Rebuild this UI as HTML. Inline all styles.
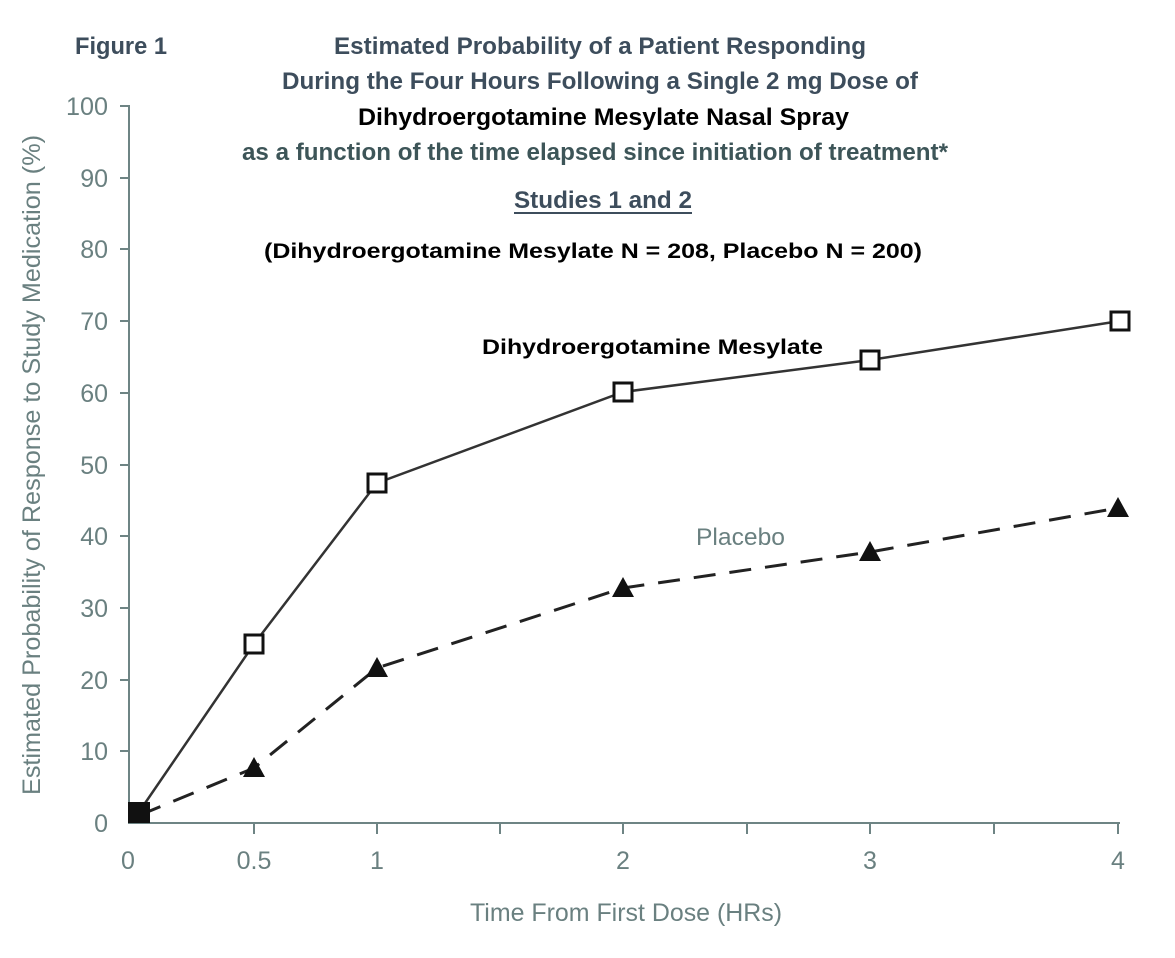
<!DOCTYPE html>
<html><head><meta charset="utf-8"><style>html,body{margin:0;padding:0;background:#fff}svg{display:block}</style></head>
<body>
<svg width="1175" height="958" viewBox="0 0 1175 958" xmlns="http://www.w3.org/2000/svg" font-family="Liberation Sans, sans-serif">
<g fill="#3d4d5c" font-weight="bold" font-size="24">
<text x="75" y="54" textLength="92" lengthAdjust="spacingAndGlyphs">Figure 1</text>
<text x="334" y="54" textLength="532" lengthAdjust="spacingAndGlyphs">Estimated Probability of a Patient Responding</text>
<text x="282" y="89" textLength="636" lengthAdjust="spacingAndGlyphs">During the Four Hours Following a Single 2 mg Dose of</text>
<text x="242" y="160" textLength="706" lengthAdjust="spacingAndGlyphs" fill="#3d5558">as a function of the time elapsed since initiation of treatment*</text>
<text x="514" y="208" textLength="178" lengthAdjust="spacingAndGlyphs">Studies 1 and 2</text>
</g>
<line x1="514" y1="213" x2="692" y2="213" stroke="#3d4d5c" stroke-width="2"/>
<g fill="#000" font-weight="bold">
<text x="358" y="125" font-size="24" textLength="491" lengthAdjust="spacingAndGlyphs">Dihydroergotamine Mesylate Nasal Spray</text>
<text x="264" y="258" font-size="21" textLength="658" lengthAdjust="spacingAndGlyphs">(Dihydroergotamine Mesylate N = 208, Placebo N = 200)</text>
<text x="482" y="354" font-size="21" textLength="341" lengthAdjust="spacingAndGlyphs">Dihydroergotamine Mesylate</text>
</g>
<text x="696" y="545" font-size="24" fill="#6a8080" textLength="89" lengthAdjust="spacingAndGlyphs">Placebo</text>
<g stroke="#6e8484" stroke-width="2" fill="none">
<path d="M120 106 H129 V823 H1120"/>
<path d="M120 178 H129 M120 249 H129 M120 321 H129 M120 393 H129 M120 465 H129 M120 536 H129 M120 608 H129 M120 680 H129 M120 751 H129"/>
<path d="M254 823 V834 M377 823 V834 M500 823 V834 M623 823 V834 M747 823 V834 M870 823 V834 M994 823 V834 M1118 823 V834"/>
</g>
<g fill="#6a8080" font-size="25" text-anchor="end">
<text x="108" y="115" textLength="42" lengthAdjust="spacingAndGlyphs">100</text><text x="108" y="187">90</text><text x="108" y="258">80</text><text x="108" y="330">70</text><text x="108" y="402">60</text><text x="108" y="474">50</text><text x="108" y="545">40</text><text x="108" y="617">30</text><text x="108" y="689">20</text><text x="108" y="760">10</text><text x="108" y="832">0</text>
</g>
<g fill="#6a8080" font-size="25" text-anchor="middle">
<text x="128" y="869">0</text><text x="254" y="869">0.5</text><text x="377" y="869">1</text><text x="623" y="869">2</text><text x="870" y="869">3</text><text x="1118" y="869">4</text>
<text x="626" y="921" textLength="312" lengthAdjust="spacingAndGlyphs">Time From First Dose (HRs)</text>
<text transform="translate(40 465) rotate(-90)" textLength="660" lengthAdjust="spacingAndGlyphs">Estimated Probability of Response to Study Medication (%)</text>
</g>
<polyline points="140,815 254,768 377,668 623,588 870,552 1118,508" fill="none" stroke="#222" stroke-width="3" stroke-dasharray="22,14"/>
<polyline points="139,812 254,644 377,483 623,392 870,360 1120,321" fill="none" stroke="#333" stroke-width="2.5"/>
<g fill="#111">
<path d="M254 757 L265 777 L243 777Z"/><path d="M377 657 L388 677 L366 677Z"/><path d="M623 577 L634 597 L612 597Z"/><path d="M870 541 L881 561 L859 561Z"/><path d="M1118 497 L1129 517 L1107 517Z"/>
<rect x="128" y="802" width="22" height="21"/>
</g>
<g fill="#fff" stroke="#111" stroke-width="3">
<rect x="245" y="635" width="18" height="18"/><rect x="368" y="474" width="18" height="18"/><rect x="614" y="383" width="18" height="18"/><rect x="861" y="351" width="18" height="18"/><rect x="1111" y="312" width="18" height="18"/>
</g>
</svg>
</body></html>
